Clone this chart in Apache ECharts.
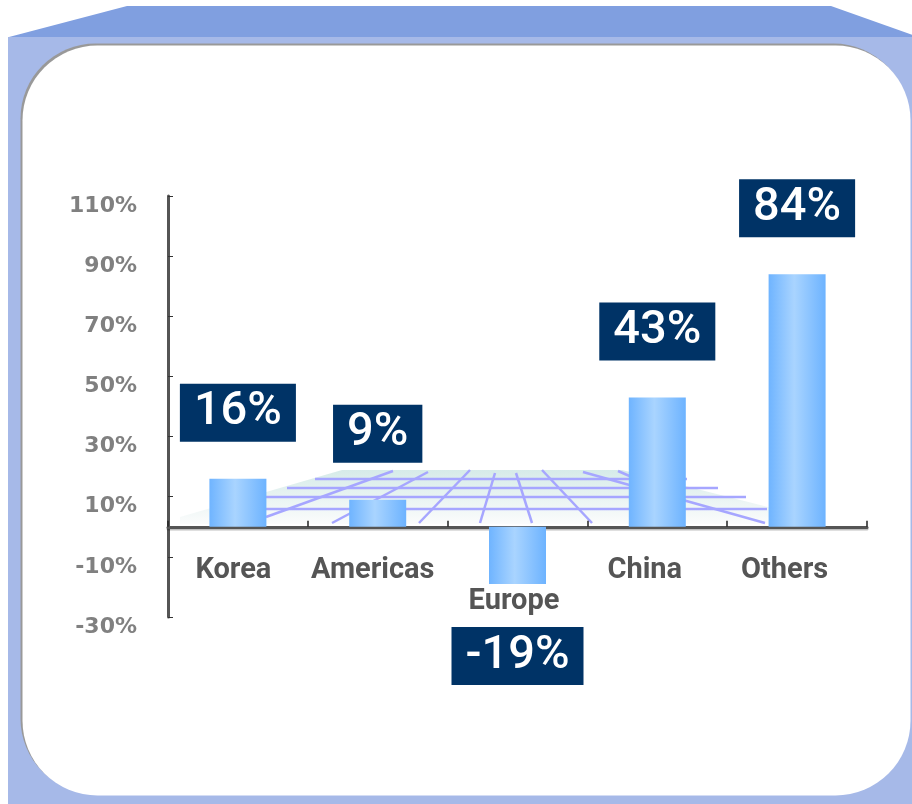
<!DOCTYPE html>
<html>
<head>
<meta charset="utf-8">
<script src="https://cdn.jsdelivr.net/npm/echarts@6/dist/echarts.min.js"></script>
<style>
html,body{margin:0;padding:0;background:#fff;}
#chart{width:912px;height:804px;}
</style>
</head>
<body>
<div id="chart"></div>
<script>
const categories = ['Korea', 'Americas', 'Europe', 'China', 'Others'];
const growth = [16, 9, -19, 43, 84];
const yTicks = [-30, -10, 10, 30, 50, 70, 90, 110];

const chart = echarts.init(document.getElementById('chart'), null, {renderer: 'canvas'});

const gridLineStyle = {stroke: '#a6a6ff', lineWidth: 2.5};
const floorLines = [
  [315, 479, 687, 479], [287, 488, 718, 488], [266, 497, 746, 497], [264, 509, 767, 509],
  [266, 517, 393, 471], [332, 523, 428, 472], [419, 523, 470, 470], [480, 523, 495, 473],
  [532, 523, 516, 473], [592, 523, 542, 470], [583, 472, 765, 523], [618, 471, 650, 485]
];

const gridTop = 196, gridBottom = 187, chartH = 804;
const yMin = -30, yMax = 110;
const plotH = chartH - gridTop - gridBottom;
const zeroOffset = -plotH * (0 - yMin) / (yMax - yMin);

// label style tweaks (extra right padding nudges a label left; Europe sits lower)
const labelPadRight = [9, 10, 7, 25, 25];
const labelPadTop = [0, 0, 31, 0, 0];
const catRich = {};
categories.forEach((c, i) => {
  catRich['k' + i] = {
    padding: [labelPadTop[i], labelPadRight[i], 0, 0],
    color: '#555555', fontFamily: 'Roboto', fontWeight: 'bold', fontSize: 29
  };
});

const option = {
  animation: false,
  backgroundColor: '#ffffff',
  graphic: [
    {type: 'polygon', z: -20, shape: {points: [[127, 6], [831, 6], [918, 37], [9, 37]]}, style: {fill: '#809fe0'}},
    {type: 'rect', z: -19, shape: {x: 8, y: 37, width: 904, height: 767}, style: {fill: '#a6b9e8'}},
    {type: 'rect', z: -18, shape: {x: 20.5, y: 43.5, width: 888, height: 750, r: 75}, style: {fill: '#999999'}},
    {type: 'rect', z: -17, shape: {x: 22.5, y: 45.5, width: 888, height: 750, r: 75}, style: {fill: '#ffffff'}},
    {type: 'polygon', z: -16, shape: {points: [[342, 470], [622, 470], [772, 508], [772, 524], [180, 524], [180, 517]]},
      style: {fill: {type: 'linear', x: 0, y: 0, x2: 0, y2: 1, colorStops: [{offset: 0, color: '#d6ebe9'}, {offset: 1, color: '#fbfcfc'}]}}},
  ].concat(floorLines.map(l => ({type: 'line', z: -15, shape: {x1: l[0], y1: l[1], x2: l[2], y2: l[3]}, style: gridLineStyle}))),
  grid: {left: 168, right: 45, top: gridTop, bottom: gridBottom, containLabel: false},
  xAxis: {
    type: 'category',
    data: categories,
    offset: zeroOffset,
    axisLine: {onZero: false, lineStyle: {color: '#555555', width: 3, shadowColor: 'rgba(0,0,0,0.25)', shadowOffsetY: 1.5}},
    axisTick: {show: true, inside: true, length: 6, lineStyle: {color: '#222222', width: 1.5}},
    axisLabel: {
      interval: 0,
      margin: 29,
      color: '#555555',
      fontFamily: 'Roboto',
      fontWeight: 'bold',
      fontSize: 29,
      formatter: (v, i) => '{k' + i + '|' + v + '}',
      rich: catRich
    },
    splitLine: {show: false}
  },
  yAxis: {
    type: 'value',
    min: yMin,
    max: yMax,
    axisLine: {show: true, lineStyle: {color: '#555555', width: 3}},
    axisTick: {show: true, inside: true, length: 5, customValues: yTicks, lineStyle: {color: '#333333', width: 1}},
    axisLabel: {
      customValues: yTicks,
      margin: 31,
      color: '#808080',
      fontFamily: 'DejaVu Sans',
      fontWeight: 'bold',
      fontSize: 22,
      verticalAlign: 'top',
      lineHeight: 20,
      formatter: v => v + '%'
    },
    splitLine: {show: false}
  },
  series: [{
    type: 'bar',
    barWidth: 57,
    z: 5,
    data: growth.map(v => v < 0 ? {value: v, label: {position: 'bottom', distance: 43}} : v),
    itemStyle: {
      color: {type: 'linear', x: 0, y: 0, x2: 1, y2: 0, colorStops: [
        {offset: 0, color: '#6fb4ff'}, {offset: 0.45, color: '#a9d4ff'}, {offset: 1, color: '#6db3ff'}
      ]}
    },
    label: {
      show: true,
      position: 'top',
      distance: 37,
      formatter: p => p.value + '%',
      color: '#ffffff',
      backgroundColor: '#003366',
      fontFamily: 'Roboto',
      fontWeight: 500,
      fontSize: 47,
      lineHeight: 40,
      padding: [9, 14, 9, 14]
    }
  }]
};
chart.setOption(option);
</script>
</body>
</html>
